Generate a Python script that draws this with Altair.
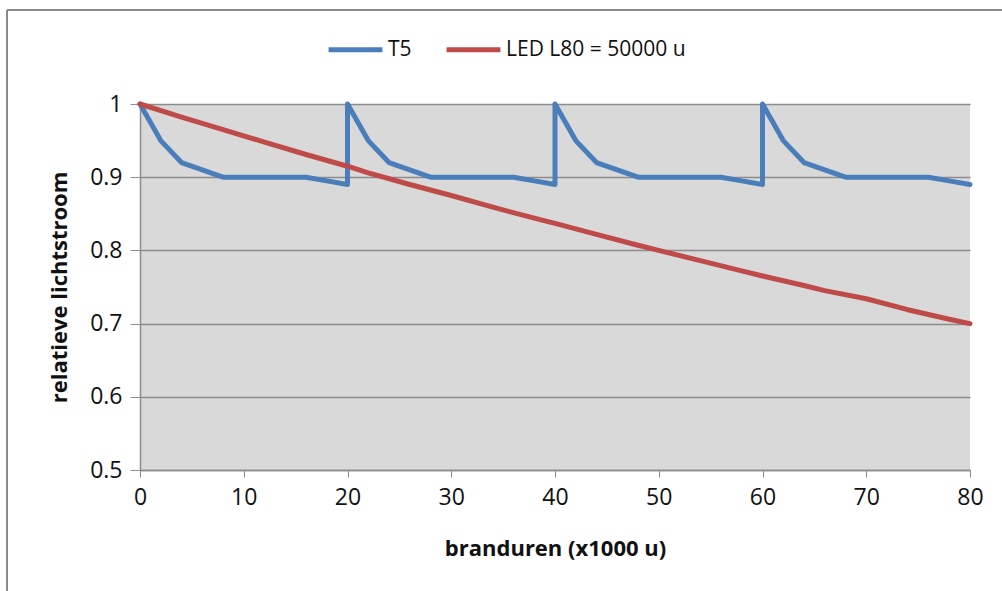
import altair as alt
import pandas as pd

# T5 tube: output sags after each relamping, lamps replaced every 20 000 h
t5_hours = [0, 2, 4, 6, 8, 10, 12, 14, 16, 18, 20,
            20, 22, 24, 26, 28, 30, 32, 34, 36, 38, 40,
            40, 42, 44, 46, 48, 50, 52, 54, 56, 58, 60,
            60, 62, 64, 66, 68, 70, 72, 74, 76, 78, 80]
t5_flux = [1.0, 0.95, 0.92, 0.91, 0.90, 0.90, 0.90, 0.90, 0.90, 0.895, 0.89,
           1.0, 0.95, 0.92, 0.91, 0.90, 0.90, 0.90, 0.90, 0.90, 0.895, 0.89,
           1.0, 0.95, 0.92, 0.91, 0.90, 0.90, 0.90, 0.90, 0.90, 0.895, 0.89,
           1.0, 0.95, 0.92, 0.91, 0.90, 0.90, 0.90, 0.90, 0.90, 0.895, 0.89]

# LED module, 80 % flux left at 50 000 h
led_hours = [0, 4, 8, 12, 16, 20, 22, 26, 30, 34, 38, 40, 44, 48, 50,
             54, 58, 60, 64, 66, 70, 74, 78, 80]
led_flux = [1.0, 0.982, 0.965, 0.948, 0.931, 0.915, 0.906, 0.890, 0.875,
            0.859, 0.844, 0.837, 0.822, 0.807, 0.800, 0.786, 0.772, 0.765,
            0.752, 0.745, 0.734, 0.719, 0.706, 0.700]

series_names = ["T5", "LED L80 = 50000 u"]
series_colors = ["#4A7EBB", "#BE4B48"]
y_ticks = [0.5, 0.6, 0.7, 0.8, 0.9, 1.0]
x_ticks = [0, 10, 20, 30, 40, 50, 60, 70, 80]

rows = []
for i, (h, v) in enumerate(zip(t5_hours, t5_flux)):
    rows.append({"uren": h, "flux": v, "reeks": series_names[0], "volg": i})
for i, (h, v) in enumerate(zip(led_hours, led_flux)):
    rows.append({"uren": h, "flux": v, "reeks": series_names[1], "volg": i})
df = pd.DataFrame(rows)

FONT = "Open Sans"
GRID = "#8C8C8C"
INK = "#111111"

lines = alt.Chart(df).mark_line(strokeWidth=5, strokeCap="round", strokeJoin="round").encode(
    x=alt.X("uren:Q",
            scale=alt.Scale(domain=[0, 80], nice=False, zero=False),
            axis=alt.Axis(values=x_ticks, format="d", title="branduren (x1000 u)",
                          grid=False, tickSize=7, tickColor=GRID, domainColor=GRID,
                          domainWidth=1.5, labelPadding=9, labelFlush=False,
                          labelFont=FONT, labelFontSize=23, labelColor=INK,
                          titleFont=FONT, titleFontSize=22, titleFontWeight="bold",
                          titleColor=INK, titleY=78, titleBaseline="middle")),
    y=alt.Y("flux:Q",
            scale=alt.Scale(domain=[0.5, 1.0], nice=False, zero=False),
            axis=alt.Axis(values=y_ticks, format=".1~f", title="relatieve lichtstroom",
                          grid=True, gridColor=GRID, gridWidth=1.5, tickSize=10,
                          tickColor=GRID, domainColor=GRID, domainWidth=1.5,
                          labelPadding=8, labelFlush=False, labelFont=FONT,
                          labelFontSize=23, labelColor=INK, titleFont=FONT,
                          titleFontSize=22, titleFontWeight="bold", titleColor=INK,
                          titleAngle=-90, titleX=-81, titleY=183,
                          titleAlign="center", titleBaseline="middle")),
    color=alt.Color("reeks:N",
                    scale=alt.Scale(domain=series_names, range=series_colors),
                    sort=series_names,
                    legend=alt.Legend(title=None, orient="none", direction="horizontal",
                                      legendX=186, legendY=-84, symbolType="stroke",
                                      symbolSize=2900, symbolStrokeWidth=5,
                                      labelFont=FONT, labelFontSize=21, labelLimit=0,
                                      labelColor=INK, labelOffset=3,
                                      columnPadding=24)),
    order="volg:Q",
    detail="reeks:N",
)

# outer chart frame (top and left edges)
frame_top = alt.Chart(pd.DataFrame({"k": [0]})).mark_rule(color="#8A8A8A", strokeWidth=2).encode(
    x=alt.value(-133), x2=alt.value(870), y=alt.value(-94))
frame_left = alt.Chart(pd.DataFrame({"k": [0]})).mark_rule(color="#8A8A8A", strokeWidth=2).encode(
    x=alt.value(-133), y=alt.value(-94), y2=alt.value(495))

chart = alt.layer(lines, frame_top, frame_left).properties(
    width=830, height=366,
    padding={"left": 140, "top": 104, "right": 32, "bottom": 121},
    autosize=alt.AutoSizeParams(type="none"),
    background="white",
).configure_view(fill="#D9D9D9", stroke=None)

chart.save("out.html", embed_options={"renderer": "svg", "actions": False})
